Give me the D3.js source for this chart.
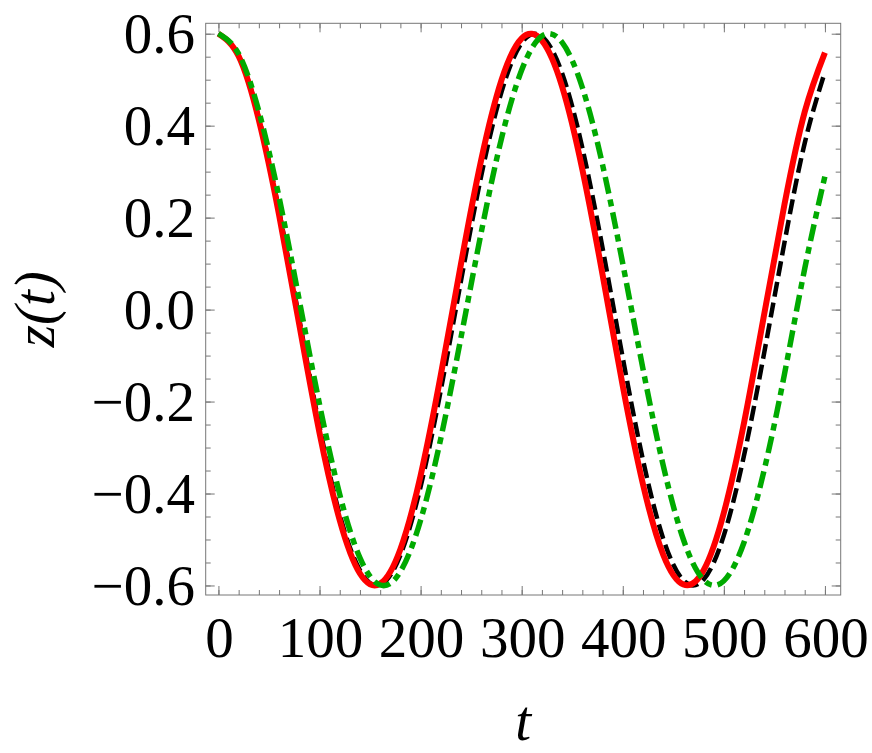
<!DOCTYPE html>
<html>
<head>
<meta charset="utf-8">
<script src="https://cdn.jsdelivr.net/npm/d3@7/dist/d3.min.js"></script>
<style>
  body { margin: 0; background: #fff; }
  text { font-family: "Liberation Serif", "Times New Roman", serif; }
</style>
</head>
<body>
<div id="chart"></div>
<script>
		var w = 872;
		var h = 753;

		// time samples (every 20)
		var tValues = [0, 20, 40, 60, 80, 100, 120, 140, 160, 180, 200, 220, 240, 260, 280, 300,
		               320, 340, 360, 380, 400, 420, 440, 460, 480, 500, 520, 540, 560, 580, 600];

		// red solid curve
		var redZ = [0.600, 0.551, 0.412, 0.206, -0.033, -0.268, -0.458, -0.574, -0.596, -0.521, -0.361,
		            -0.142, 0.100, 0.326, 0.499, 0.590, 0.585, 0.485, 0.305, 0.076, -0.166, -0.380,
		            -0.533, -0.598, -0.567, -0.442, -0.246, -0.009, 0.229, 0.430, 0.559];

		// black dashed curve
		var blackZ = [0.600, 0.552, 0.417, 0.215, -0.021, -0.254, -0.446, -0.567, -0.599, -0.534, -0.385,
		              -0.175, 0.063, 0.291, 0.473, 0.580, 0.594, 0.514, 0.352, 0.134, -0.105, -0.327,
		              -0.498, -0.589, -0.587, -0.491, -0.317, -0.093, 0.146, 0.362, 0.517];

		// green dot-dashed curve
		var greenZ = [0.600, 0.556, 0.431, 0.244, 0.020, -0.206, -0.402, -0.540, -0.599, -0.570, -0.458,
		              -0.280, -0.060, 0.168, 0.372, 0.521, 0.595, 0.581, 0.483, 0.315, 0.100, -0.129,
		              -0.339, -0.500, -0.588, -0.590, -0.506, -0.348, -0.140, 0.089, 0.290];

		var xTickLabels = [0, 100, 200, 300, 400, 500, 600];
		var yTickLabels = [0.6, 0.4, 0.2, 0.0, -0.2, -0.4, -0.6];

		var fontSize = 57;

		var xScale = d3.scaleLinear()
					   .domain([-12.6, 615.6])
					   .range([205.7, 840.7]);

		var yScale = d3.scaleLinear()
					   .domain([-0.6207, 0.6226])
					   .range([595, 23.3]);

		var svg = d3.select("#chart")
					.append("svg")
					.attr("width", w)
					.attr("height", h);

		var x0 = xScale.range()[0], x1 = xScale.range()[1];
		var y0 = yScale.range()[0], y1 = yScale.range()[1];

		var xMinor = d3.range(0, 601, 20);
		var yMinor = d3.range(-12, 13).map(function(i) { return i * 0.05; });
		var yMajor = yTickLabels.slice();

		//Ticks on all four sides, pointing inward
		function tickLayer(axisFn, scale, values, size, transform) {
			var g = svg.append("g")
				.attr("transform", transform)
				.call(axisFn(scale).tickValues(values).tickSize(size).tickFormat(""));
			g.select(".domain").remove();
			g.selectAll("line").attr("stroke", "#777").attr("stroke-width", 1);
			return g;
		}
		tickLayer(d3.axisBottom, xScale, xMinor, -5, "translate(0," + y0 + ")");
		tickLayer(d3.axisBottom, xScale, xTickLabels, -9, "translate(0," + y0 + ")");
		tickLayer(d3.axisTop, xScale, xMinor, -5, "translate(0," + y1 + ")");
		tickLayer(d3.axisTop, xScale, xTickLabels, -9, "translate(0," + y1 + ")");
		tickLayer(d3.axisLeft, yScale, yMinor, -5, "translate(" + x0 + ",0)");
		tickLayer(d3.axisLeft, yScale, yMajor, -9, "translate(" + x0 + ",0)");
		tickLayer(d3.axisRight, yScale, yMinor, -5, "translate(" + x1 + ",0)");
		tickLayer(d3.axisRight, yScale, yMajor, -9, "translate(" + x1 + ",0)");

		//Frame
		svg.append("rect")
			.attr("x", x0)
			.attr("y", y1)
			.attr("width", x1 - x0)
			.attr("height", y0 - y1)
			.attr("fill", "none")
			.attr("stroke", "#777")
			.attr("stroke-width", 1);

		//Tick labels
		svg.selectAll(".xlab")
			.data(xTickLabels)
			.enter()
			.append("text")
			.attr("class", "xlab")
			.attr("x", function(d) { return xScale(d) + 1; })
			.attr("y", 657)
			.attr("text-anchor", "middle")
			.attr("font-size", fontSize)
			.text(function(d) { return d; });

		svg.selectAll(".ylab")
			.data(yTickLabels)
			.enter()
			.append("text")
			.attr("class", "ylab")
			.attr("x", 195)
			.attr("y", function(d) { return yScale(d) + 19.5; })
			.attr("text-anchor", "end")
			.attr("font-size", fontSize)
			.text(function(d) { return (d < 0 ? "\u2212" : "") + Math.abs(d).toFixed(1); });

		//Axis titles
		svg.append("text")
			.attr("x", (x0 + x1) / 2)
			.attr("y", 740)
			.attr("text-anchor", "middle")
			.attr("font-size", fontSize)
			.attr("font-style", "italic")
			.text("t");

		svg.append("text")
			.attr("transform", "translate(54," + (y0 + y1) / 2 + ") rotate(-90)")
			.attr("text-anchor", "middle")
			.attr("font-size", fontSize)
			.attr("font-style", "italic")
			.text("z(t)");

		//Curves
		var line = d3.line()
					 .x(function(d) { return xScale(d[0]); })
					 .y(function(d) { return yScale(d[1]); })
					 .curve(d3.curveNatural);

		function series(vals) {
			return tValues.map(function(t, i) { return [t, vals[i]]; });
		}

		svg.append("path")
			.datum(series(blackZ))
			.attr("d", line)
			.attr("fill", "none")
			.attr("stroke", "#000")
			.attr("stroke-width", 4.5)
			.attr("stroke-dasharray", "15,6");

		svg.append("path")
			.datum(series(redZ))
			.attr("d", line)
			.attr("fill", "none")
			.attr("stroke", "#ff0000")
			.attr("stroke-width", 6);

		svg.append("path")
			.datum(series(greenZ))
			.attr("d", line)
			.attr("fill", "none")
			.attr("stroke", "#00aa00")
			.attr("stroke-width", 5.5)
			.attr("stroke-dasharray", "17,6,7,6");
</script>
</body>
</html>
